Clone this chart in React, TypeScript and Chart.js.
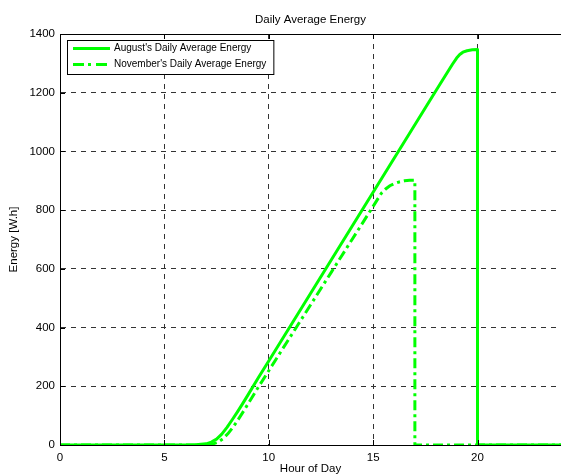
import { useEffect, useRef } from 'react';
import { Chart, registerables } from 'chart.js';

Chart.register(...registerables);

const chartTitle = 'Daily Average Energy';
const xAxisTitle = 'Hour of Day';
const yAxisTitle = 'Energy [W.h]';
const seriesNames = ["August's Daily Average Energy", "November's Daily Average Energy"];

const xTicks = [0, 5, 10, 15, 20];
const yTicks = [0, 200, 400, 600, 800, 1000, 1200, 1400];

const augustHours = [0, 6, 6.5, 7, 7.25, 7.5, 7.75, 8, 8.25, 8.5, 8.75, 9, 9.5, 10, 11, 12, 13, 14, 15, 16, 17, 18, 18.8, 19, 19.15, 19.3, 19.5, 19.75, 20, 20, 24];
const augustEnergy = [0, 0, 1, 4, 10, 20, 37, 60, 86, 113, 141, 170, 229, 286, 401, 516, 631, 746, 861, 976, 1091, 1206, 1297, 1318, 1330, 1338, 1343, 1346, 1347, 0, 0];

const novemberHours = [0, 7, 7.3, 7.55, 7.8, 8.05, 8.3, 8.55, 8.8, 9.05, 9.3, 9.5, 10, 11, 12, 13, 14, 15, 15.4, 15.6, 15.8, 16, 16.25, 16.5, 16.75, 17, 17, 24];
const novemberEnergy = [0, 0, 3, 9, 21, 39, 62, 88, 116, 145, 174, 197, 253, 365, 477, 589, 701, 813, 858, 872, 883, 890, 896, 900, 902, 902, 0, 0];

const FONT = '"Liberation Sans", Arial, Helvetica, sans-serif';
const GREEN = '#00ff00';
const DASHDOT = [10, 4, 3, 4];

const decorPlugin = {
  id: 'decor',
  afterDraw(chart: any) {
    const { ctx, chartArea } = chart;
    const { left, right, top, bottom } = chartArea;
    const xs = chart.scales.x;
    const ys = chart.scales.y;
    ctx.save();
    // top border
    ctx.strokeStyle = '#000';
    ctx.lineWidth = 1;
    ctx.setLineDash([]);
    ctx.beginPath();
    ctx.moveTo(left, Math.round(top) + 0.5);
    ctx.lineTo(right, Math.round(top) + 0.5);
    // inward ticks
    xTicks.forEach((v) => {
      const px = Math.round(xs.getPixelForValue(v)) + 0.5;
      ctx.moveTo(px, bottom);
      ctx.lineTo(px, bottom - 5);
      ctx.moveTo(px, top);
      ctx.lineTo(px, top + 5);
    });
    yTicks.forEach((v) => {
      const py = Math.round(ys.getPixelForValue(v)) + 0.5;
      ctx.moveTo(left, py);
      ctx.lineTo(left + 5, py);
    });
    ctx.stroke();

    // title
    ctx.fillStyle = '#000';
    ctx.font = `11.5px ${FONT}`;
    ctx.textAlign = 'center';
    ctx.textBaseline = 'middle';
    ctx.fillText(chartTitle, (left + right) / 2, 20);

    // legend
    ctx.font = `10px ${FONT}`;
    const boxX = left + 7;
    const boxY = top + 6;
    const textX = boxX + 47;
    const maxW = Math.max(...seriesNames.map((s) => ctx.measureText(s).width));
    const boxW = textX - boxX + maxW + 7;
    const boxH = 34;
    ctx.fillStyle = '#fff';
    ctx.fillRect(boxX, boxY, boxW, boxH);
    ctx.strokeStyle = '#000';
    ctx.lineWidth = 1;
    ctx.strokeRect(boxX + 0.5, boxY + 0.5, boxW, boxH);
    const rows = [boxY + 8.5, boxY + 24.5];
    seriesNames.forEach((name, i) => {
      ctx.strokeStyle = GREEN;
      ctx.lineWidth = 3;
      ctx.lineCap = 'butt';
      ctx.setLineDash(i === 0 ? [] : [11, 4, 3, 5]);
      ctx.beginPath();
      ctx.moveTo(boxX + 6, rows[i]);
      ctx.lineTo(boxX + 43, rows[i]);
      ctx.stroke();
      ctx.setLineDash([]);
      ctx.fillStyle = '#000';
      ctx.textAlign = 'left';
      ctx.textBaseline = 'middle';
      ctx.fillText(name, textX, rows[i]);
    });
    ctx.restore();
  },
};

export default function App() {
  const ref = useRef<HTMLCanvasElement | null>(null);

  useEffect(() => {
    if (!ref.current) return;
    const tickFont = { family: FONT, size: 11.5 };
    const chart = new Chart(ref.current, {
      type: 'line',
      data: {
        datasets: [
          {
            label: seriesNames[0],
            data: augustHours.map((h, i) => ({ x: h, y: augustEnergy[i] })),
            borderColor: GREEN,
            backgroundColor: GREEN,
            borderWidth: 3,
            pointRadius: 0,
            tension: 0,
            fill: false,
            borderJoinStyle: 'round',
          },
          {
            label: seriesNames[1],
            data: novemberHours.map((h, i) => ({ x: h, y: novemberEnergy[i] })),
            borderColor: GREEN,
            backgroundColor: GREEN,
            borderWidth: 3,
            borderDash: DASHDOT,
            borderCapStyle: 'butt',
            pointRadius: 0,
            tension: 0,
            fill: false,
          },
        ],
      },
      options: {
        animation: false,
        responsive: false,
        maintainAspectRatio: false,
        layout: { padding: { top: 34, right: 0, bottom: 0, left: 0 } },
        plugins: {
          legend: { display: false },
          title: { display: false },
          tooltip: { enabled: false },
        },
        scales: {
          x: {
            type: 'linear',
            min: 0,
            max: 24,
            afterFit: (s: any) => {
              s.height = 31;
            },
            ticks: {
              stepSize: 5,
              includeBounds: false,
              padding: 6,
              maxRotation: 0,
              autoSkip: false,
              color: '#000',
              font: tickFont,
              callback: (v: any) => String(v),
            },
            grid: { color: '#333', lineWidth: 1, drawTicks: false },
            border: { display: true, color: '#000', width: 1, dash: [5, 5] },
            title: {
              display: true,
              text: xAxisTitle,
              color: '#000',
              font: tickFont,
              padding: { top: 0, bottom: 0 },
            },
          },
          y: {
            type: 'linear',
            min: 0,
            max: 1400,
            afterFit: (s: any) => {
              s.width = 60;
            },
            ticks: {
              stepSize: 200,
              includeBounds: false,
              padding: 5,
              color: '#000',
              font: tickFont,
              callback: (v: any) => String(v),
            },
            grid: { color: '#333', lineWidth: 1, drawTicks: false },
            border: { display: true, color: '#000', width: 1, dash: [5, 5] },
            title: {
              display: true,
              text: yAxisTitle,
              color: '#000',
              font: tickFont,
              padding: { top: 7, bottom: 0 },
            },
          },
        },
      },
      plugins: [decorPlugin],
    } as any);
    return () => chart.destroy();
  }, []);

  return (
    <div style={{ position: 'absolute', left: 0, top: 0, width: 561, height: 476, background: '#fff' }}>
      <canvas ref={ref} width={561} height={476} style={{ display: 'block' }} />
    </div>
  );
}
